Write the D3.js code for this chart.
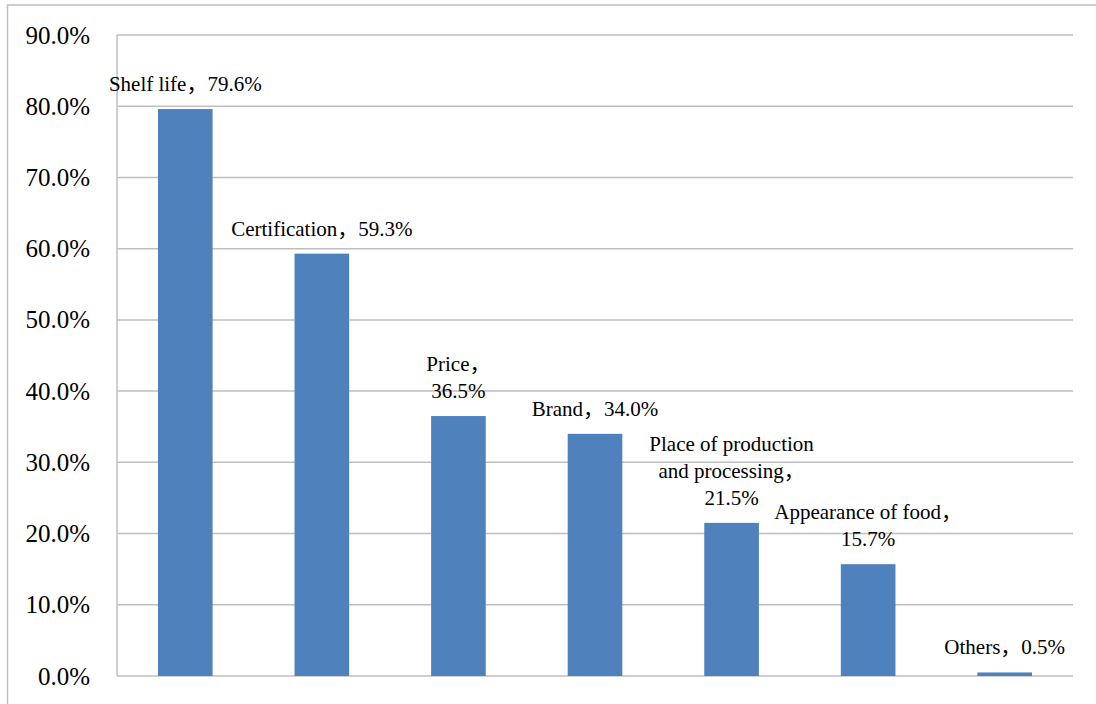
<!DOCTYPE html>
<html>
<head>
<meta charset="utf-8">
<script src="https://cdn.jsdelivr.net/npm/d3@7"></script>
<style>
  html, body { margin: 0; padding: 0; background: #fff; }
  svg { display: block; }
</style>
</head>
<body>
<svg id="chart" width="1096" height="704"></svg>
<script>
// Factors considered when buying food (share of respondents, %)
const categories = ["Shelf life", "Certification", "Price", "Brand",
  "Place of production and processing", "Appearance of food", "Others"];
const values = [79.6, 59.3, 36.5, 34.0, 21.5, 15.7, 0.5];
// How each data label wraps: the name part split into lines, and whether
// the value sits on the same line as the last name line.
const labelNameLines = [
  ["Shelf life，"],
  ["Certification，"],
  ["Price，"],
  ["Brand，"],
  ["Place of production", "and processing，"],
  ["Appearance of food，"],
  ["Others，"]
];
const valueOnSameLine = [true, true, false, true, false, false, true];
const yTicks = [0, 10, 20, 30, 40, 50, 60, 70, 80, 90];

const FONT = "'Liberation Serif', 'Noto Sans CJK SC', serif";
const svg = d3.select("#chart");
const plot = { left: 117, right: 1073, top: 35, bottom: 676 };

// Outer chart frame (only left and top edges fall inside the view)
svg.append("rect")
  .attr("x", 7.5).attr("y", 5)
  .attr("width", 1200).attr("height", 800)
  .attr("fill", "none").attr("stroke", "#bfbfbf").attr("stroke-width", 1.5);

const x = d3.scaleBand().domain(categories)
  .range([plot.left, plot.right]).paddingInner(0.6).paddingOuter(0.3);
const y = d3.scaleLinear().domain([0, 90]).range([plot.bottom, plot.top]);

// Horizontal gridlines
svg.append("g").selectAll("line").data(yTicks).join("line")
  .attr("x1", plot.left).attr("x2", plot.right)
  .attr("y1", d => y(d)).attr("y2", d => y(d))
  .attr("stroke", "#bfbfbf").attr("stroke-width", 1.5);

// Vertical axis line
svg.append("line")
  .attr("x1", plot.left).attr("x2", plot.left)
  .attr("y1", plot.top).attr("y2", plot.bottom)
  .attr("stroke", "#bfbfbf").attr("stroke-width", 1.5);

// Y tick labels
svg.append("g").selectAll("text").data(yTicks).join("text")
  .attr("x", 90).attr("y", d => y(d)).attr("dy", 8.5)
  .attr("text-anchor", "end")
  .attr("font-family", FONT).attr("font-size", 25).attr("fill", "#000")
  .text(d => d3.format(".1f")(d) + "%");

// Bars
svg.append("g").selectAll("rect").data(values).join("rect")
  .attr("x", (d, i) => x(categories[i]))
  .attr("width", x.bandwidth())
  .attr("y", d => y(d))
  .attr("height", d => y(0) - y(d))
  .attr("fill", "#4f81bd");

// Data labels centred above each bar
const lineH = 27;
values.forEach((v, i) => {
  const valText = d3.format(".1f")(v) + "%";
  const lines = labelNameLines[i].slice();
  if (valueOnSameLine[i]) lines[lines.length - 1] += valText;
  else lines.push(valText);
  const cx = x(categories[i]) + x.bandwidth() / 2;
  const lastBase = y(v) - 18;
  const t = svg.append("text")
    .attr("text-anchor", "middle")
    .attr("font-family", FONT).attr("font-size", 21).attr("fill", "#000");
  lines.forEach((ln, k) => {
    t.append("tspan")
      .attr("x", cx)
      .attr("y", lastBase - (lines.length - 1 - k) * lineH)
      .text(ln);
  });
});
</script>
</body>
</html>
